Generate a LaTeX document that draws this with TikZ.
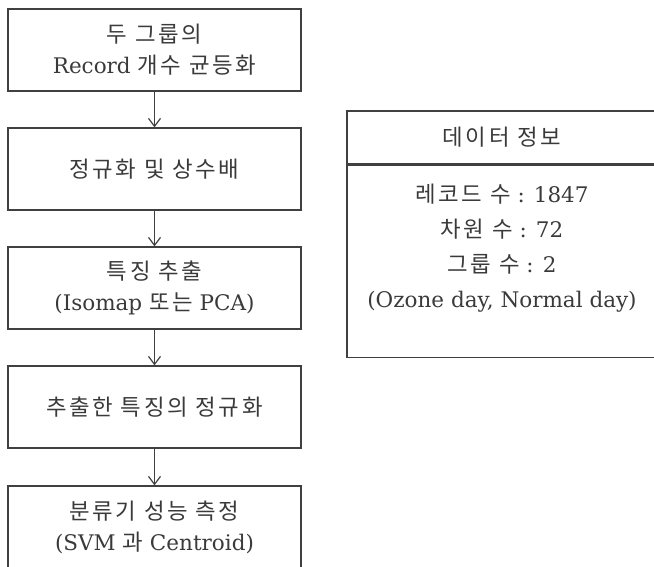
\documentclass[tikz,border=0pt]{standalone}
\usepackage{fontspec}
\setmainfont{DejaVu Serif}
\newfontfamily\krfont{Noto Sans CJK KR}[Scale=1.04,LetterSpace=12]
\usetikzlibrary{arrows.meta}
\newcommand{\hg}[1]{{\krfont #1}}
\definecolor{linec}{HTML}{404040}
\definecolor{textc}{HTML}{3A3A3A}
\tikzset{
  stepbox/.style={draw=linec, line width=1.3pt, minimum width=293pt, minimum height=82pt,
    inner sep=0pt, align=center, text=textc, font=\fontsize{21.5}{31}\selectfont},
  infobox/.style={draw=linec, line width=1.3pt, minimum width=310pt, inner sep=0pt},
  infotext/.style={align=center, text=textc, font=\fontsize{21.5}{35}\selectfont},
  flow/.style={draw=linec, line width=1.2pt, -{Straight Barb[length=8pt,width=12pt,line width=1.2pt]}}
}
\begin{document}
\begin{tikzpicture}[x=1pt,y=-1pt]
\useasboundingbox (0,0) rectangle (654,567);
\node[stepbox] (b1) at (154.5,50) {\hg{두 그룹의}\\Record \hg{개수 균등화}};
\node[stepbox] (b2) at (154.5,169) {\hg{정규화 및 상수배}};
\node[stepbox] (b3) at (154.5,288) {\hg{특징 추출}\\(Isomap \hg{또는} PCA)};
\node[stepbox] (b4) at (154.5,407) {\hg{추출한 특징의 정규화}};
\node[stepbox] (b5) at (154.5,527) {\hg{분류기 성능 측정}\\(SVM \hg{과} Centroid)};
\draw[flow] (b1.south) -- (b2.north);
\draw[flow] (b2.south) -- (b3.north);
\draw[flow] (b3.south) -- (b4.north);
\draw[flow] (b4.south) -- (b5.north);
\node[infobox, minimum height=53pt, text=textc, font=\fontsize{21.5}{30}\selectfont] (ihead) at (502,137.5) {\hg{데이터 정보}};
\node[infobox, minimum height=192pt, anchor=north] (ibody) at (ihead.south) {};
\node[infotext] (itext) at (502,248) {\hg{레코드 수} : 1847\\\hg{차원 수} : 72\\\hg{그룹 수} : 2\\(Ozone day, Normal day)};
\end{tikzpicture}
\end{document}
